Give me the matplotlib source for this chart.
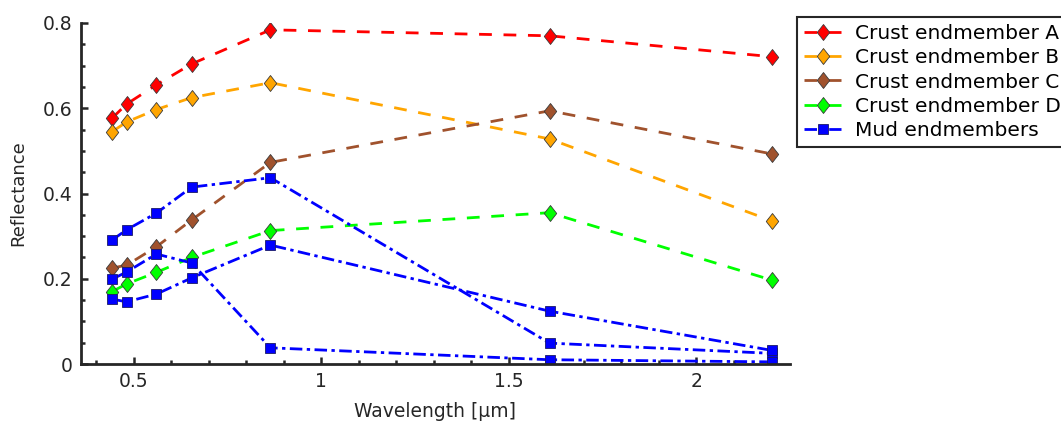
import matplotlib
matplotlib.use("Agg")
import matplotlib.pyplot as plt
from matplotlib.path import Path
from matplotlib.ticker import MultipleLocator

# -----------------------------
# Band centres (um) and endmember spectra
# -----------------------------
wavelength = [0.443, 0.482, 0.561, 0.655, 0.865, 1.609, 2.201]

crust_a = [0.577, 0.610, 0.655, 0.704, 0.784, 0.770, 0.721]
crust_b = [0.545, 0.568, 0.597, 0.625, 0.660, 0.528, 0.336]
crust_c = [0.225, 0.232, 0.275, 0.338, 0.473, 0.594, 0.493]
crust_d = [0.170, 0.188, 0.215, 0.250, 0.313, 0.355, 0.197]

mud_1 = [0.291, 0.315, 0.354, 0.415, 0.437, 0.049, 0.025]
mud_2 = [0.152, 0.146, 0.164, 0.202, 0.279, 0.124, 0.032]
mud_3 = [0.199, 0.216, 0.258, 0.237, 0.038, 0.010, 0.005]

crust_labels = ["Crust endmember A", "Crust endmember B",
                "Crust endmember C", "Crust endmember D"]
crust_colors = ["#ff0000", "#ffa500", "#a0522d", "#00ff00"]
mud_label = "Mud endmembers"

plt.rcParams["font.family"] = "DejaVu Sans"
text_col = "#262626"

# slightly tall diamond
diamond = Path([(0, 1), (0.78, 0), (0, -1), (-0.78, 0), (0, 1)],
               [Path.MOVETO, Path.LINETO, Path.LINETO, Path.LINETO, Path.CLOSEPOLY])

fig = plt.figure(figsize=(10.61, 4.21), dpi=100)
ax = fig.add_axes([81 / 1061, 57 / 421, 709 / 1061, 341 / 421])

handles = []
for vals, col, lab in zip([crust_a, crust_b, crust_c, crust_d], crust_colors, crust_labels):
    h, = ax.plot(wavelength, vals, color=col, lw=2, dashes=(4.6, 4.2),
                 marker=diamond, ms=11.5, mfc=col, mec="#3a3a3a", mew=0.6, label=lab)
    handles.append(h)

for i, vals in enumerate([mud_1, mud_2, mud_3]):
    h, = ax.plot(wavelength, vals, color="#0000ff", lw=2, dashes=(4.5, 1.6, 1.2, 1.6),
                 marker="s", ms=7.2, mfc="#0000ff", mec="#1a1a66", mew=0.6,
                 label=mud_label if i == 0 else None)
    if i == 0:
        handles.append(h)

ax.set_xlim(0.36, 2.25)
ax.set_ylim(0, 0.8)
ax.xaxis.set_minor_locator(MultipleLocator(0.1))
ax.yaxis.set_minor_locator(MultipleLocator(0.05))
ax.set_yticks([0, 0.2, 0.4, 0.6, 0.8])
ax.set_yticklabels(["0", "0.2", "0.4", "0.6", "0.8"])
ax.set_xticks([0.5, 1, 1.5, 2])
ax.set_xticklabels(["0.5", "1", "1.5", "2"])

for s in ["top", "right"]:
    ax.spines[s].set_visible(False)
for s in ["left", "bottom"]:
    ax.spines[s].set_linewidth(2)
    ax.spines[s].set_color(text_col)

ax.tick_params(which="major", direction="in", length=5, width=1.8, colors=text_col,
               labelsize=13.5, pad=6)
ax.tick_params(which="minor", direction="in", length=3, width=1.8, colors=text_col)

ax.set_xlabel("Wavelength [\u00b5m]", fontsize=13.5, color=text_col, labelpad=8)
ax.set_ylabel("Reflectance", fontsize=13, color=text_col, labelpad=11)

leg = fig.legend(handles=handles, loc="upper left",
                 bbox_to_anchor=(797 / 1061, 1 - 17 / 421),
                 fontsize=14.5, frameon=True, fancybox=False, framealpha=1,
                 handlelength=1.85, handletextpad=0.7, borderpad=0.35,
                 labelspacing=0.26, borderaxespad=0)
leg.get_frame().set_edgecolor("#262626")
leg.get_frame().set_linewidth(1.5)

fig.savefig("out.png", dpi=100)
